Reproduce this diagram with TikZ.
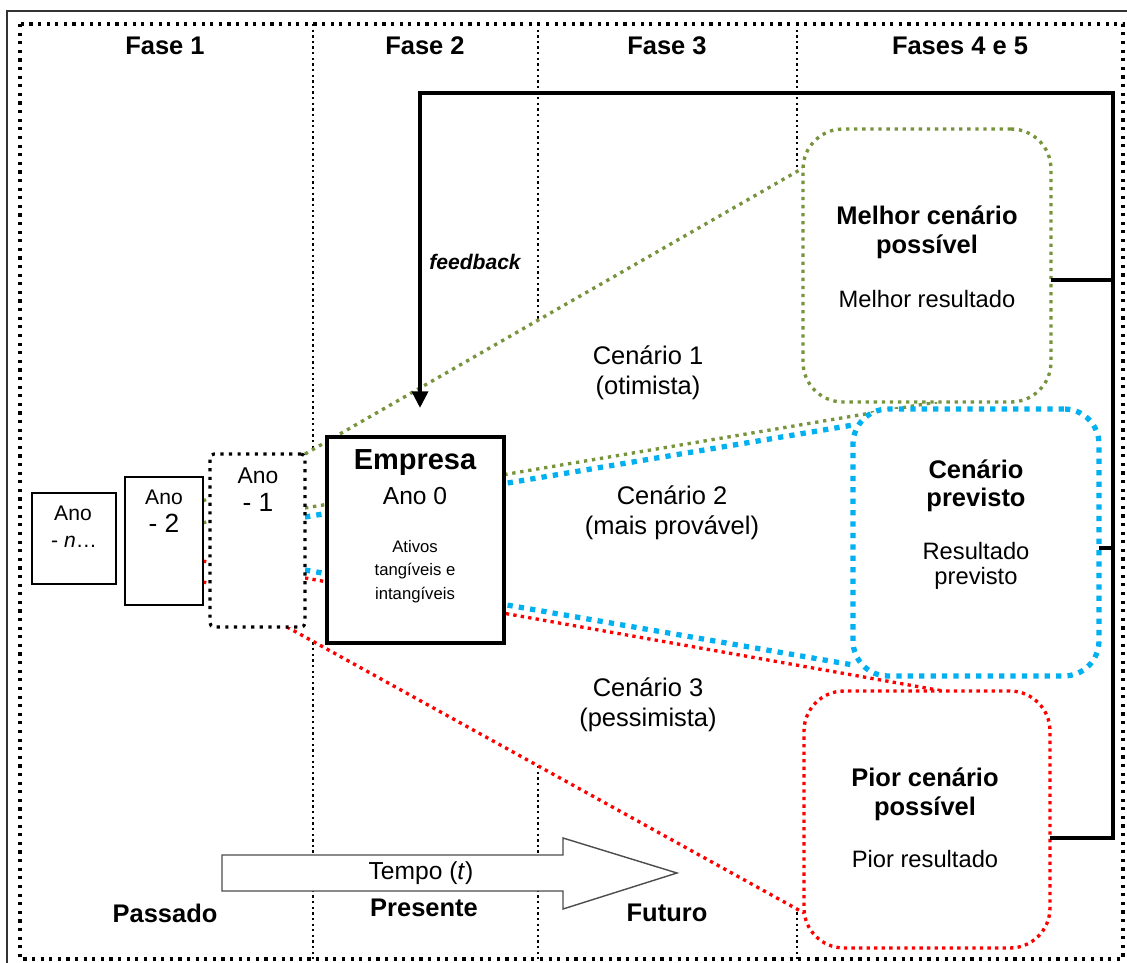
\documentclass[tikz,border=0pt]{standalone}
\usepackage{fontspec}
\setmainfont{Liberation Sans}
\usetikzlibrary{arrows.meta,calc}
\definecolor{og}{HTML}{77933C}
\definecolor{sky}{HTML}{00B0F0}
\definecolor{rd}{HTML}{FF0000}
\newcommand\fsz[2]{\fontsize{#1}{#2}\selectfont}
\pgfdeclarelayer{bg}
\pgfsetlayers{bg,main}
\tikzset{
  framel/.style={draw=black, line width=1.8pt, dash pattern=on 1.8pt off 3.1pt},
  sepl/.style={draw=black, line width=1.3pt, dash pattern=on 1.3pt off 1.9pt},
  gline/.style={draw=og, line width=1.9pt, dash pattern=on 1.9pt off 2.7pt},
  bline/.style={draw=sky, line width=3pt, dash pattern=on 3pt off 3.5pt},
  rline/.style={draw=rd, line width=1.9pt, dash pattern=on 1.9pt off 2.4pt},
  box/.style={inner sep=0pt, outer sep=0pt, fill=white},
  lbl/.style={align=center, inner sep=0pt},
  hdr/.style={inner sep=0pt, font=\fsz{14.5}{17}\bfseries},
  fbl/.style={line width=2.4pt, line join=miter},
}
\begin{document}
\begin{tikzpicture}[x=0.02cm,y=-0.02cm]
\useasboundingbox (0,0) rectangle (1127,963);

% boxes
\node[box, draw, line width=0.6pt, minimum width=1.68cm, minimum height=1.82cm] (anon) at (74,538.5) {};
\node[box, draw, line width=1.3pt, minimum width=1.56cm, minimum height=2.56cm] (ano2) at (164,541) {};
\node[box, framel, rounded corners=0.08cm, minimum width=1.9cm, minimum height=3.46cm] (ano1) at (257.5,540.5) {};
\node[box, draw, line width=2.6pt, minimum width=3.54cm, minimum height=4.12cm] (emp) at (415.5,540) {};
\node[box, gline, rounded corners=0.8cm, minimum width=4.96cm, minimum height=5.46cm] (melhor) at (927,265.5) {};
\node[box, bline, rounded corners=0.7cm, minimum width=4.92cm, minimum height=5.34cm] (previsto) at (976,542.5) {};
\node[box, rline, rounded corners=0.8cm, minimum width=4.92cm, minimum height=5.14cm] (pior) at (927,819.5) {};

\begin{pgfonlayer}{bg}
  % outer frame
  \draw[line width=0.8pt, black!80] (7,975) -- (7,11) -- (1140,11);
  \draw[framel] (20,24) rectangle (1123,959);
  % phase separators
  \draw[sepl] (313,24) -- (313,959);
  \draw[sepl] (538,24) -- (538,959);
  \draw[sepl] (797,24) -- (797,959);
  % white fan
  \fill[white] (ano1.north east) -- ([yshift=1.95cm]melhor.west) -- ([yshift=0.7cm]pior.south west) -- ([xshift=-0.36cm]ano1.south east) -- cycle;
  % scenario lines
  \draw[gline] (ano1.north east) -- ([yshift=1.95cm]melhor.west);
  \draw[gline] ([yshift=0.65cm]ano1.east) -- ([xshift=0.2cm]melhor.south);
  \draw[bline] ([yshift=0.47cm]ano1.east) -- ([yshift=-0.32cm]previsto.north west);
  \draw[bline] ([yshift=-0.59cm]ano1.east) -- ([yshift=0.22cm]previsto.south west);
  \draw[rline] ([yshift=-0.75cm]ano1.east) -- ([xshift=0.32cm]pior.north);
  \draw[rline] ([xshift=-0.36cm]ano1.south east) -- ([yshift=0.7cm]pior.south west);
  % small fragments between Ano -2 and Ano -1
  \draw[gline] ([yshift=0.8cm]ano2.east) -- ([yshift=0.86cm]ano1.west);
  \draw[gline] ([yshift=0.36cm]ano2.east) -- ([yshift=0.4cm]ano1.west);
  \draw[rline] ([yshift=-0.4cm]ano2.east) -- ([yshift=-0.44cm]ano1.west);
  \draw[rline] ([yshift=-0.82cm]ano2.east) -- ([yshift=-0.86cm]ano1.west);
\end{pgfonlayer}

% feedback loop
\coordinate (bt) at (1113,93);
\coordinate (fbtip) at (420,408);
\coordinate (ms) at ([yshift=-0.29cm]melhor.east);
\coordinate (ps) at ([yshift=-0.11cm]previsto.east);
\coordinate (rs) at ([yshift=-0.37cm]pior.east);
\draw[fbl, -{Triangle[width=9pt,length=9.5pt]}] (rs) -| (bt) -| (fbtip);
\draw[fbl] (ms) -- (ms -| bt);
\draw[fbl] (ps) -- (ps -| bt);
\node[inner sep=0pt, font=\fsz{12}{14}\bfseries\itshape] (fb) at (475,262) {feedback};

% time arrow
\draw[black!70, line width=0.8pt, fill=white] (222,855) -- (563,855) -- (563,838) -- (677,873) -- (563,909) -- (563,891) -- (222,891) -- cycle;
\node[inner sep=0pt, font=\fsz{14}{16}] (tempo) at (421,873) {Tempo (\textit{t})};

% headers
\node[hdr] (f1) at (165,46) {Fase 1};
\node[hdr] (f2) at (425,46) {Fase 2};
\node[hdr] (f3) at (667,46) {Fase 3};
\node[hdr] (f45) at (960,46) {Fases 4 e 5};
\node[hdr] (pas) at (165,913) {Passado};
\node[hdr] (pre) at (424,908) {Presente};
\node[hdr] (fut) at (667,913) {Futuro};

% box texts
\node[lbl, font=\fsz{12}{14}] (tna) at (73,513) {Ano};
\node[lbl, font=\fsz{12}{14}] (tnb) at (74,542) {- \textit{n}…};
\node[lbl, font=\fsz{12}{14}] (t2a) at (164,497) {Ano};
\node[lbl, font=\fsz{15}{17}] (t2b) at (164,523) {- 2};
\node[lbl, font=\fsz{13}{15}] (t1a) at (258,476) {Ano};
\node[lbl, font=\fsz{15}{17}] (t1b) at (258,502) {- 1};
\node[lbl, font=\fsz{16.5}{19}\bfseries] (te) at (415,463) {Empresa};
\node[lbl, font=\fsz{14}{16}] (t0) at (415,496) {Ano 0};
\node[lbl, font=\fsz{9.5}{13.3}] (ta) at (415,571.5) {Ativos\\tangíveis e\\intangíveis};

\node[lbl, font=\fsz{14.5}{16.5}\bfseries] (mt) at (927,232.5) {Melhor cenário\\possível};
\node[lbl, font=\fsz{13.5}{15}] (mr) at (927,299) {Melhor resultado};
\node[lbl, font=\fsz{14.5}{16}\bfseries] (pt) at (976,486) {Cenário\\previsto};
\node[lbl, font=\fsz{13.5}{14.2}] (pr) at (976,565.5) {Resultado\\previsto};
\node[lbl, font=\fsz{14.5}{16.5}\bfseries] (it) at (925,794) {Pior cenário\\possível};
\node[lbl, font=\fsz{13.5}{15}] (ir) at (925,859) {Pior resultado};

% scenario labels
\node[lbl, font=\fsz{14.5}{17}] (c1) at (648,373) {Cenário 1\\(otimista)};
\node[lbl, font=\fsz{14.5}{17}] (c2) at (672,512.5) {Cenário 2\\(mais provável)};
\node[lbl, font=\fsz{14.5}{17}] (c3) at (648,705) {Cenário 3\\(pessimista)};
\end{tikzpicture}
\end{document}
